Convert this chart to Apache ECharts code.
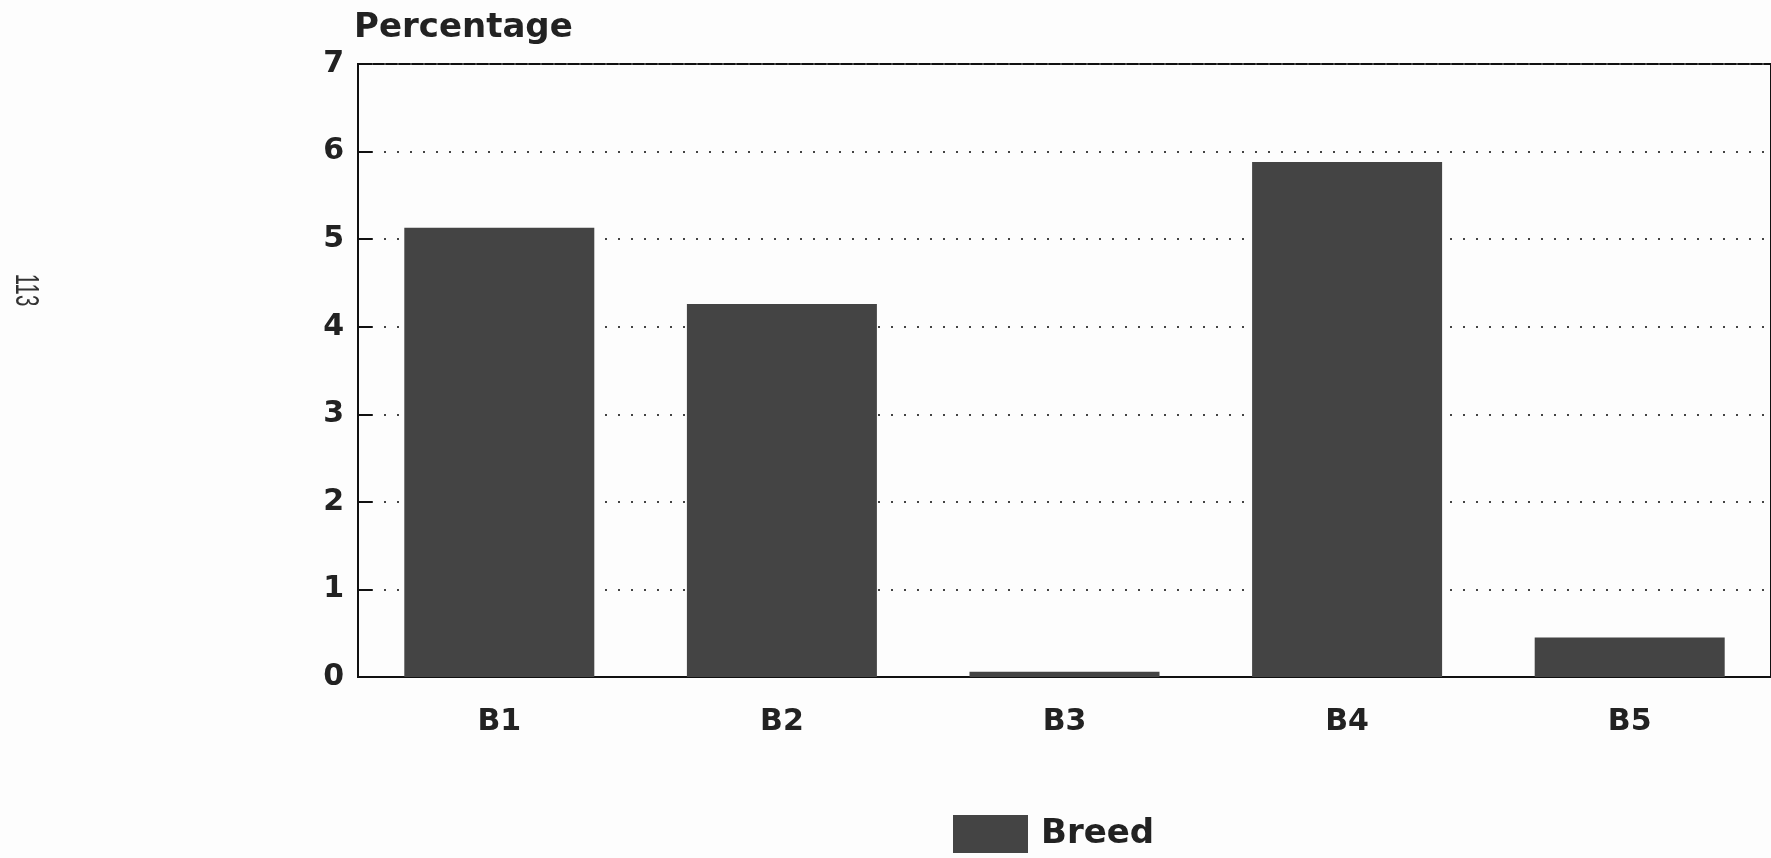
<!DOCTYPE html>
<html>
<head>
<meta charset="utf-8">
<script src="https://cdn.jsdelivr.net/npm/echarts@6/dist/echarts.min.js"></script>
<style>
  html, body { margin: 0; padding: 0; background: #fdfdfd; }
  #chart { width: 1771px; height: 858px; }
</style>
</head>
<body>
<div id="chart"></div>
<script>
// data
const categories = ['B1', 'B2', 'B3', 'B4', 'B5']
const breedValues = [5.13, 4.26, 0.06, 5.88, 0.45]
const seriesName = 'Breed'
const axisTitle = 'Percentage'
const pageNumber = '113'

const chart = echarts.init(document.getElementById('chart'))
const font = 'DejaVu Sans'

chart.setOption({
  backgroundColor: '#fdfdfd',
  animation: false,
  title: {
    text: axisTitle,
    left: 354,
    top: 11,
    padding: 0,
    textStyle: { fontFamily: font, fontWeight: 'bold', fontSize: 34, color: '#222' }
  },
  graphic: [{
    type: 'text',
    x: 25,
    y: 290,
    rotation: -Math.PI / 2,
    scaleX: 0.6,
    style: {
      text: pageNumber,
      fontFamily: 'Liberation Sans',
      fontSize: 34,
      fill: '#333',
      align: 'center',
      verticalAlign: 'middle'
    }
  }],
  legend: {
    data: [seriesName],
    left: 953,
    top: 815,
    padding: 0,
    itemWidth: 75,
    itemHeight: 38,
    itemGap: 20,
    icon: 'rect',
    textStyle: { fontFamily: font, fontWeight: 'bold', fontSize: 34, color: '#222', padding: [0, 0, 0, 8] }
  },
  grid: {
    left: 358,
    top: 64,
    right: -7,
    bottom: 181,
    show: true,
    borderColor: '#111',
    borderWidth: 2,
    backgroundColor: 'transparent'
  },
  xAxis: {
    type: 'category',
    data: categories,
    axisLine: { lineStyle: { color: '#111', width: 2 } },
    axisTick: { show: false },
    axisLabel: { fontFamily: font, fontWeight: 'bold', fontSize: 30, color: '#222', margin: 30 }
  },
  yAxis: {
    type: 'value',
    min: 0,
    max: 7,
    interval: 1,
    axisLine: { show: true, lineStyle: { color: '#111', width: 2 } },
    axisTick: { show: true, inside: true, length: 14, lineStyle: { color: '#111', width: 2 } },
    axisLabel: { fontFamily: font, fontWeight: 'bold', fontSize: 30, color: '#222', margin: 14, padding: [9, 0, 0, 0] },
    splitLine: { show: true, lineStyle: { color: '#444', width: 2, type: [2, 11] } }
  },
  series: [{
    name: seriesName,
    type: 'bar',
    data: breedValues,
    barWidth: 190,
    itemStyle: { color: '#444' }
  }]
})
</script>
</body>
</html>
